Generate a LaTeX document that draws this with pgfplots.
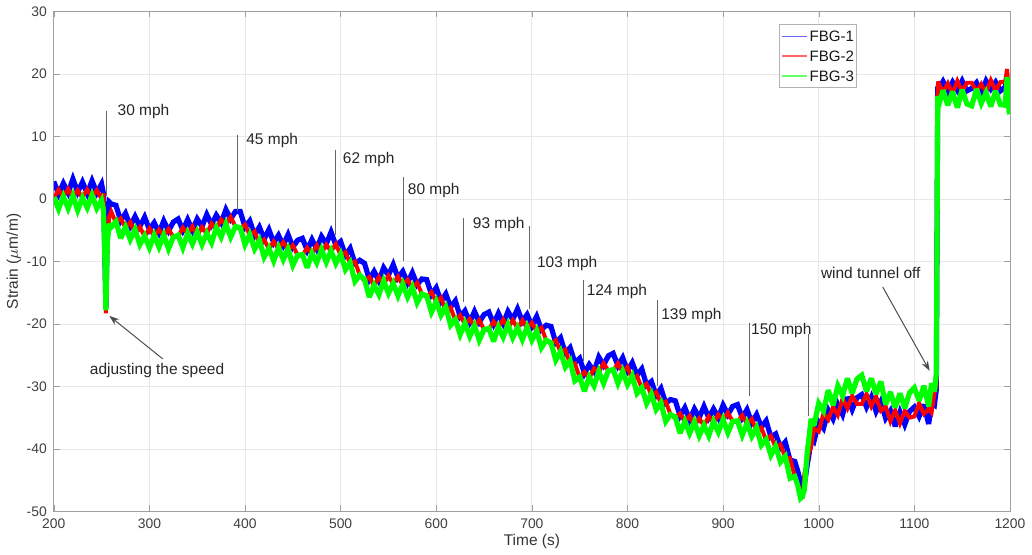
\documentclass[border=0pt]{standalone}
\usepackage{fontspec}
\setmainfont{Liberation Sans}
\usepackage{pgfplots}
\usepackage{pgfplotstable}
\pgfplotsset{compat=1.18}
\usetikzlibrary{arrows.meta}

\definecolor{fbgblue}{rgb}{0,0,1}
\definecolor{fbgred}{rgb}{1,0,0}
\definecolor{fbggreen}{rgb}{0,1,0}

% strain of the three gratings, FBG-1 (b), FBG-2 (r), FBG-3 (g)
\pgfplotstableread{
t b r g
200 2.8 0.1 0.3
205 0.8 1.5 -1.6
210 2.5 0.3 0.4
215 1.0 1.6 -1.5
220 3.2 0.2 0.5
225 1.1 1.4 -1.8
230 2.7 0.2 0.2
235 0.9 1.5 -1.4
240 2.9 0.3 0.6
245 1.0 1.4 -1.5
250 2.4 0.0 -0.2
252 0.8 0.9 -1.8
253.5 -10 -10.5 -10
254.5 -17.5 -18.3 -17.8
256 -5 -6.5 -7
258 -0.5 -2.8 -4.0
260 -0.8 -2.0 -4.5
265 -1.0 -3.8 -3.6
270 -3.5 -3.1 -6.3
275 -2.3 -4.6 -4.5
280 -4.3 -3.7 -6.5
285 -2.8 -5.5 -4.9
290 -4.4 -4.5 -7.3
295 -2.9 -6.0 -5.9
300 -4.9 -4.7 -7.8
305 -3.8 -6.0 -5.8
310 -5.4 -4.9 -7.7
315 -3.5 -5.9 -5.8
320 -5.1 -4.8 -8.0
325 -3.7 -6.1 -6.1
330 -3.2 -6.0 -5.8
335 -5.0 -4.6 -7.8
340 -3.3 -5.6 -5.5
345 -5.0 -4.4 -7.2
350 -3.2 -5.9 -5.3
355 -4.4 -4.5 -7.3
360 -2.5 -5.6 -5.5
365 -4.1 -3.9 -7.0
370 -2.6 -4.8 -4.6
375 -3.8 -3.3 -6.1
380 -1.7 -4.1 -4.0
385 -3.2 -2.9 -6.1
390 -2.0 -4.4 -4.4
395 -2.0 -4.8 -4.6
400 -4.5 -4.1 -7.3
405 -3.5 -5.8 -5.7
410 -5.8 -5.2 -8.0
415 -4.5 -7.2 -6.6
420 -6.4 -6.5 -9.3
425 -4.9 -8.0 -7.9
430 -7.0 -6.8 -9.9
435 -5.8 -8.0 -7.8
440 -7.4 -6.9 -9.7
445 -5.7 -8.1 -8.0
450 -7.7 -7.4 -10.6
455 -6.6 -9.0 -9.0
460 -6.3 -9.1 -8.9
465 -8.2 -7.8 -11.0
470 -6.5 -8.8 -8.7
475 -8.0 -7.4 -10.2
480 -6.0 -8.7 -8.1
485 -7.2 -7.3 -10.1
490 -5.3 -8.4 -8.3
495 -7.4 -7.2 -10.3
500 -6.8 -9.0 -8.8
505 -9.0 -8.5 -11.3
510 -7.9 -10.3 -10.2
515 -10.3 -10.0 -13.2
520 -9.8 -12.2 -12.2
525 -10.3 -13.1 -12.9
530 -12.9 -12.5 -15.7
535 -11.6 -13.9 -13.8
540 -13.1 -12.5 -15.3
545 -11.0 -13.7 -13.1
550 -12.2 -12.3 -15.1
555 -10.5 -13.6 -13.5
560 -12.6 -12.4 -15.5
565 -11.6 -13.8 -13.6
570 -13.4 -12.9 -15.7
575 -11.8 -14.2 -14.1
580 -13.7 -13.4 -16.6
585 -12.8 -15.2 -15.2
590 -12.9 -15.7 -15.5
595 -15.3 -14.9 -18.1
600 -14.2 -16.5 -16.4
605 -16.4 -15.8 -18.6
610 -15.2 -17.9 -17.3
615 -17.3 -17.4 -20.2
620 -16.3 -19.4 -19.3
625 -18.8 -18.6 -21.7
630 -17.9 -20.1 -19.9
635 -19.7 -19.2 -22.0
640 -18.0 -20.4 -20.3
645 -19.7 -19.4 -22.6
650 -18.5 -20.9 -20.9
655 -18.1 -20.9 -20.7
660 -20.0 -19.6 -22.8
665 -18.3 -20.6 -20.5
670 -19.9 -19.3 -22.1
675 -18.0 -20.7 -20.1
680 -19.3 -19.4 -22.2
685 -17.6 -20.7 -20.6
690 -19.6 -19.4 -22.5
695 -18.5 -20.7 -20.5
700 -20.3 -19.8 -22.6
705 -18.8 -21.2 -21.1
710 -20.9 -20.6 -23.8
715 -20.2 -22.6 -22.6
720 -20.4 -23.2 -23.0
725 -23.0 -22.6 -25.8
730 -22.2 -24.5 -24.4
735 -24.7 -24.1 -26.9
740 -23.8 -26.5 -25.9
745 -26.2 -26.3 -29.1
750 -25.5 -28.6 -28.5
755 -27.9 -27.7 -30.8
760 -26.5 -28.7 -28.5
765 -27.6 -27.1 -29.9
770 -25.3 -27.7 -27.6
775 -26.6 -26.3 -29.5
780 -25.1 -27.5 -27.5
785 -24.7 -27.5 -27.3
790 -26.7 -26.3 -29.5
795 -25.4 -27.7 -27.6
800 -27.5 -26.9 -29.7
805 -26.2 -28.9 -28.3
810 -28.2 -28.3 -31.1
815 -27.2 -30.3 -30.2
820 -29.8 -29.6 -32.7
825 -29.2 -31.4 -31.2
830 -31.4 -30.9 -33.7
835 -30.3 -32.7 -32.6
840 -32.7 -32.4 -35.6
845 -32.1 -34.5 -34.5
850 -32.3 -35.1 -34.9
855 -34.7 -34.3 -37.5
860 -33.4 -35.7 -35.6
865 -35.3 -34.7 -37.5
870 -33.6 -36.3 -35.7
875 -35.0 -35.1 -37.9
880 -33.2 -36.3 -36.2
885 -35.0 -34.8 -37.9
890 -33.6 -35.8 -35.6
895 -35.0 -34.5 -37.3
900 -33.0 -35.4 -35.3
905 -34.5 -34.2 -37.4
910 -33.2 -35.6 -35.6
915 -32.9 -35.7 -35.5
920 -35.0 -34.6 -37.8
925 -33.7 -36.0 -35.9
930 -35.8 -35.2 -38.0
935 -34.5 -37.2 -36.6
940 -36.5 -36.6 -39.4
945 -35.5 -38.6 -38.5
950 -38.1 -37.9 -41.0
955 -37.6 -39.8 -39.6
960 -39.8 -39.3 -42.1
965 -38.9 -41.3 -41.2
970 -41.8 -41.5 -44.7
975 -42.0 -44.4 -44.4
978 -43.5 -46.0 -45.8
981 -45.3 -47.0 -47.9
983 -46.0 -48.0 -47.6
985 -45.8 -44.0 -46.5
988 -42.5 -42.0 -40.5
990 -40.8 -40.5 -38.0
992 -38.3 -39.8 -35.2
995 -38.8 -36.7 -36.3
1000 -35.7 -37.2 -32.7
1005 -36.7 -34.3 -33.9
1010 -33.8 -35.3 -30.6
1015 -35.2 -33.3 -33.0
1020 -32.9 -34.6 -29.9
1025 -34.5 -31.9 -31.5
1030 -31.7 -33.5 -28.7
1035 -33.7 -31.5 -31.1
1040 -31.8 -32.8 -28.8
1045 -31.3 -32.8 -28.2
1050 -33.3 -31.2 -30.8
1055 -31.7 -33.2 -28.7
1060 -34.0 -31.6 -31.2
1065 -32.4 -33.9 -29.2
1070 -35.1 -33.2 -32.9
1075 -33.9 -35.6 -30.9
1080 -36.4 -33.8 -33.4
1085 -34.1 -35.9 -31.1
1090 -36.1 -33.9 -33.5
1095 -34.0 -35.0 -31.0
1100 -33.3 -34.8 -30.2
1105 -34.8 -32.7 -32.3
1110 -32.9 -34.4 -29.9
1115 -36.0 -33.6 -33.2
1118 -32.7 -34.2 -29.5
1121 -33.0 -31.1 -30.8
1123 -30.5 -30.0 -28.0
1124.5 18.0 18.0 16.5
1125 17.5 18.8 14.7
1130 18.8 17.0 17.4
1135 17.2 18.5 15.0
1140 18.7 16.9 17.2
1145 17.4 18.9 14.6
1150 18.9 17.2 17.5
1155 17.3 18.6 15.2
1160 17.7 18.6 14.9
1165 18.6 17.2 17.6
1170 17.0 18.4 15.3
1175 18.9 17.1 17.0
1180 17.6 19.0 14.8
1185 18.7 17.3 17.3
1190 17.3 18.7 15.1
1195 17.9 18.8 15.0
1197 19.5 20.8 19.5
1199 17.0 16.0 14.0
1200 16.0 15.0 13.6
}\strain

\begin{document}
\begin{tikzpicture}
\begin{axis}[
    scale only axis,
    width=482pt, height=252pt,
    xmin=200, xmax=1200, ymin=-50, ymax=30,
    xtick={200,300,...,1200},
    ytick={-50,-40,...,30},
    yticklabels={-50,-40,-30,-20,-10,0,10,20,30},
    /pgf/number format/assume math mode=true,
    /pgf/number format/1000 sep={},
    tick label style={font=\fontsize{7}{8}\selectfont, text=black!75},
    label style={font=\fontsize{7.8}{9}\selectfont, text=black!80},
    xlabel={Time (s)},
    ylabel={Strain ($\mu$m/m)},
    xlabel style={yshift=4pt},
    ylabel style={yshift=-4pt},
    axis line style={gray!75},
    major tick style={gray!75},
    major tick length=3pt,
    grid=major,
    grid style={gray!18, line width=0.4pt},
    band/.style={line width=2.6pt, line join=miter, miter limit=3},
]
\addplot[fbgblue, band] table[x=t, y=b] {\strain};
\addplot[fbgred, band, line width=2pt] table[x=t, y=r] {\strain};
\addplot[fbggreen, band] table[x=t, y=g] {\strain};

% legend box, drawn by hand
\draw[gray!60, fill=white, line width=0.5pt] (rel axis cs:0.759,0.974) rectangle (rel axis cs:0.840,0.849);
\draw[fbgblue!60!white, line width=0.9pt] (rel axis cs:0.762,0.950) -- (rel axis cs:0.788,0.950);
\draw[fbgred!60!white, line width=0.9pt] (rel axis cs:0.762,0.911) -- (rel axis cs:0.788,0.911);
\draw[fbggreen!60!white, line width=0.9pt] (rel axis cs:0.762,0.871) -- (rel axis cs:0.788,0.871);
\begin{scope}[every node/.style={anchor=west, inner sep=0pt, font=\fontsize{7.6}{8.5}\selectfont, text=black!90}]
\node at (rel axis cs:0.790,0.950) {FBG-1};
\node at (rel axis cs:0.790,0.911) {FBG-2};
\node at (rel axis cs:0.790,0.871) {FBG-3};
\end{scope}

% speed markers
\begin{scope}[gray!80!black, line width=0.5pt]
\draw (axis cs:254.6,14.0) -- (axis cs:254.6,0.5);
\draw (axis cs:392.6,10.2) -- (axis cs:392.6,-1.9);
\draw (axis cs:494.3,7.8) -- (axis cs:494.3,-5.7);
\draw (axis cs:566,3.5) -- (axis cs:566,-9.9);
\draw (axis cs:628,-3.0) -- (axis cs:628,-16.5);
\draw (axis cs:697.6,-4.3) -- (axis cs:697.6,-17.6);
\draw (axis cs:754.3,-12.9) -- (axis cs:754.3,-26.0);
\draw (axis cs:831.4,-16.2) -- (axis cs:831.4,-30.0);
\draw (axis cs:927.5,-19.8) -- (axis cs:927.5,-31.6);
\draw (axis cs:989.4,-21.6) -- (axis cs:989.4,-34.8);
\end{scope}
\begin{scope}[every node/.style={anchor=west, inner sep=0pt, font=\fontsize{7.8}{9}\selectfont, text=black!85}]
\node at (axis cs:266.4,14.0) {30 mph};
\node at (axis cs:401,9.4) {45 mph};
\node at (axis cs:502,6.3) {62 mph};
\node at (axis cs:570,1.3) {80 mph};
\node at (axis cs:638,-4.1) {93 mph};
\node at (axis cs:705,-10.3) {103 mph};
\node at (axis cs:757,-14.8) {124 mph};
\node at (axis cs:835,-18.7) {139 mph};
\node at (axis cs:929,-21.1) {150 mph};
\node at (axis cs:1002,-11.9) {wind tunnel off};
\end{scope}
\node[inner sep=0pt, font=\fontsize{7.8}{9}\selectfont, text=black!85] at (axis cs:308,-27.5) {adjusting the speed};
\draw[-{Stealth[length=5pt,width=3.5pt]}, black!70, line width=0.5pt] (axis cs:314,-25.6) -- (axis cs:258,-18.7);
\draw[-{Stealth[length=5pt,width=3.5pt]}, black!70, line width=0.5pt] (axis cs:1067,-14.1) -- (axis cs:1116,-27.5);
\end{axis}
\end{tikzpicture}
\end{document}
